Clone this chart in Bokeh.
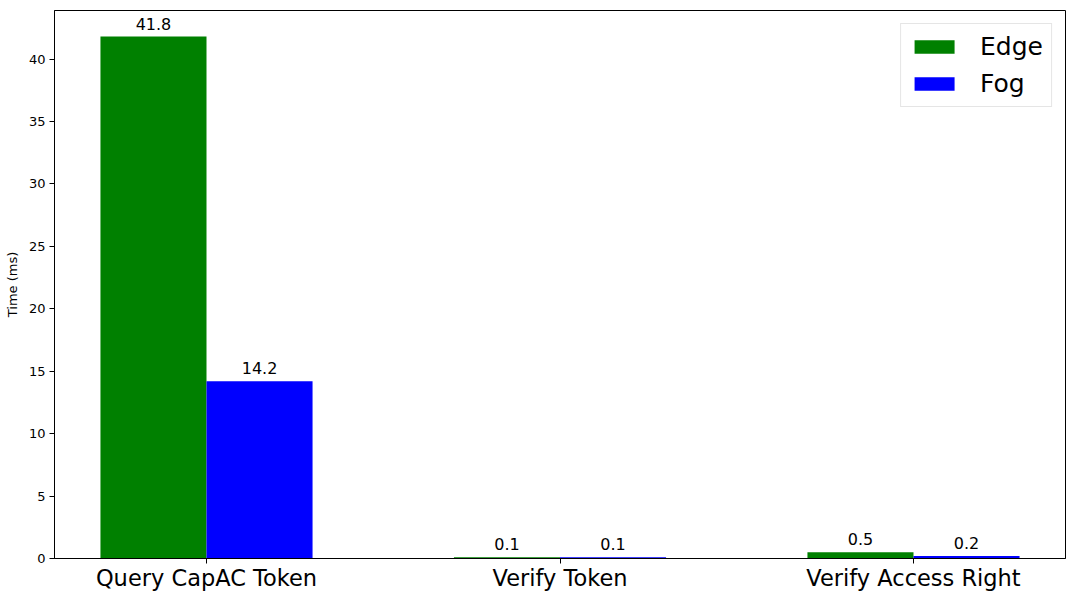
from bokeh.plotting import figure
from bokeh.models import ColumnDataSource, Range1d, FixedTicker, Legend, LegendItem, LabelSet
from bokeh.transform import dodge
from bokeh.core.properties import value
from bokeh.embed import file_html
from bokeh.resources import INLINE

categories = ["Query CapAC Token", "Verify Token", "Verify Access Right"]
edge_values = [41.8, 0.1, 0.5]
fog_values = [14.2, 0.1, 0.2]
edge_labels = ["41.8", "0.1", "0.5"]
fog_labels = ["14.2", "0.1", "0.2"]
y_ticks = [0, 5, 10, 15, 20, 25, 30, 35, 40]

xs = list(range(len(categories)))
src = ColumnDataSource(dict(x=xs, edge=edge_values, fog=fog_values,
                            edge_lbl=edge_labels, fog_lbl=fog_labels))

FONT = "DejaVu Sans"
W = 0.3

p = figure(width=1075, height=593, output_backend="svg", toolbar_location=None,
           x_range=Range1d(-0.43, 2.43), y_range=Range1d(0, max(edge_values) * 1.05),
           min_border_left=54, min_border_right=10, min_border_top=10, min_border_bottom=34)

r_edge = p.vbar(x=dodge("x", -W / 2), top="edge", width=W, source=src,
                fill_color="green", line_color=None)
r_fog = p.vbar(x=dodge("x", W / 2), top="fog", width=W, source=src,
               fill_color="blue", line_color=None)

for col, lbl, off in (("edge", "edge_lbl", -W / 2), ("fog", "fog_lbl", W / 2)):
    ls = LabelSet(x=dodge("x", off), y=col, text=lbl, source=src,
                  text_align="center", text_baseline="alphabetic", y_offset=7,
                  text_font=value(FONT), text_font_size=value("16px"),
                  text_color=value("black"))
    p.add_layout(ls)

p.grid.visible = False
p.outline_line_color = "black"
p.outline_line_width = 1
p.outline_line_alpha = 1

xa = p.xaxis[0]
xa.ticker = FixedTicker(ticks=xs)
xa.major_label_overrides = {i: c for i, c in zip(xs, categories)}
xa.major_label_text_font = FONT
xa.major_label_text_font_size = "22.5px"
xa.major_label_text_color = "black"
xa.major_tick_out = 5
xa.major_tick_in = 0
xa.minor_tick_out = 0
xa.minor_tick_in = 0
xa.major_label_standoff = 1
xa.axis_line_color = "black"

ya = p.yaxis[0]
ya.ticker = FixedTicker(ticks=y_ticks)
ya.major_label_text_font = FONT
ya.major_label_text_font_size = "13px"
ya.major_label_text_color = "black"
ya.major_tick_out = 5
ya.major_tick_in = 0
ya.minor_tick_out = 0
ya.minor_tick_in = 0
ya.major_label_standoff = 4
ya.axis_label = "Time (ms)"
ya.axis_label_text_font = FONT
ya.axis_label_text_font_size = "13px"
ya.axis_label_text_font_style = "normal"
ya.axis_label_text_color = "black"
ya.axis_label_standoff = 6
ya.axis_line_color = "black"

legend = Legend(items=[LegendItem(label="Edge", renderers=[r_edge]),
                       LegendItem(label="Fog", renderers=[r_fog])],
                location="top_right")
legend.label_text_font = FONT
legend.label_text_font_size = "25px"
legend.label_text_color = "black"
legend.glyph_width = 50
legend.glyph_height = 17
legend.label_height = 28
legend.label_standoff = 21
legend.spacing = 8
legend.padding = 8
legend.margin = 13
legend.border_line_color = "#cccccc"
legend.border_line_width = 1
legend.background_fill_alpha = 0.8
p.add_layout(legend)

open("out.html", "w").write(file_html(p, INLINE))
